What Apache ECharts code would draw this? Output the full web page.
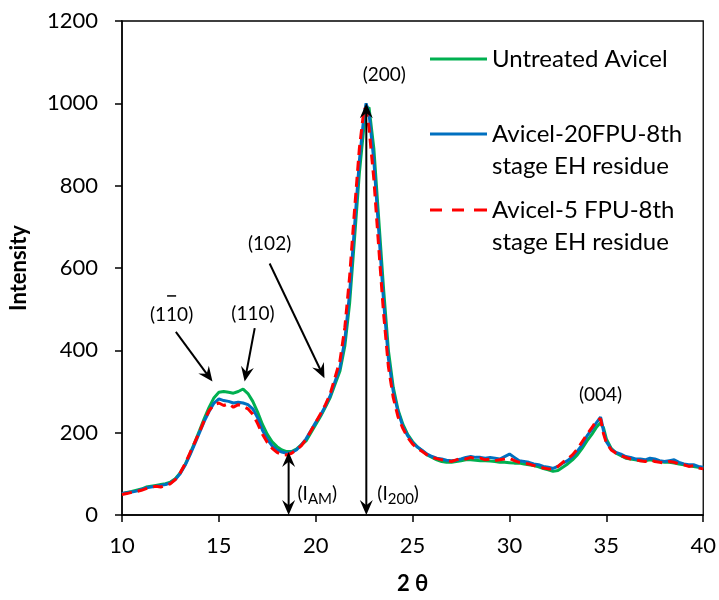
<!DOCTYPE html>
<html>
<head>
<meta charset="utf-8">
<script src="https://cdn.jsdelivr.net/npm/echarts@6/dist/echarts.min.js"></script>
<style>
  html, body { margin: 0; padding: 0; background: #fff; }
  #main { width: 719px; height: 600px; }
</style>
</head>
<body>
<div id="main"></div>
<script>
// Diffraction angle 2θ (degrees)
const theta = [
  10, 10.25, 10.5, 10.75, 11, 11.25, 11.5, 11.75, 12, 12.25, 12.5, 12.75, 13, 13.25, 13.5, 13.75, 14, 14.25, 14.5, 14.75,
  15, 15.25, 15.5, 15.75, 16, 16.25, 16.5, 16.75, 17, 17.25, 17.5, 17.75, 18, 18.25, 18.5, 18.75, 19, 19.25, 19.5, 19.75,
  20, 20.25, 20.5, 20.75, 21, 21.25, 21.5, 21.75, 22, 22.25, 22.5, 22.6, 22.75, 23, 23.25, 23.5, 23.75, 24, 24.25, 24.5, 24.75,
  25, 25.25, 25.5, 25.75, 26, 26.25, 26.5, 26.75, 27, 27.25, 27.5, 27.75, 28, 28.25, 28.5, 28.75, 29, 29.25, 29.5, 29.75,
  30, 30.25, 30.5, 30.75, 31, 31.25, 31.5, 31.75, 32, 32.25, 32.5, 32.75, 33, 33.25, 33.5, 33.75, 34, 34.25, 34.5, 34.7, 34.75, 34.85,
  35, 35.25, 35.5, 35.75, 36, 36.25, 36.5, 36.75, 37, 37.25, 37.5, 37.75, 38, 38.25, 38.5, 38.75, 39, 39.25, 39.5, 39.75, 40
];

// Untreated Avicel
const untreated = [
  52, 55, 57, 60, 63, 68, 70, 72, 74, 76, 80, 88, 102, 122, 148, 176, 205, 235, 262, 285,
  298, 300, 298, 296, 300, 306, 295, 276, 250, 220, 196, 178, 166, 158, 154, 154, 160, 170, 180, 200,
  220, 240, 262, 286, 318, 350, 410, 515, 670, 830, 950, 985, 990, 890, 720, 550, 400, 310, 255, 220, 195,
  178, 165, 156, 146, 140, 134, 130, 128, 128, 130, 132, 134, 134, 133, 132, 132, 131, 130, 128, 128,
  127, 126, 126, 124, 122, 120, 117, 113, 110, 106, 108, 116, 124, 134, 146, 162, 180, 196, 214, 224, 228, 212,
  185, 162, 150, 144, 138, 136, 134, 132, 132, 134, 132, 130, 128, 128, 126, 124, 122, 120, 118, 116, 114
];

// Avicel-20FPU-8th stage EH residue
const fpu20 = [
  52, 54, 56, 58, 62, 66, 68, 70, 72, 74, 78, 86, 100, 120, 145, 172, 200, 228, 252, 272,
  282, 278, 276, 272, 274, 272, 268, 258, 236, 206, 184, 168, 158, 153, 150, 152, 158, 170, 185, 205,
  225, 243, 265, 290, 325, 358, 425, 540, 700, 860, 975, 1000, 975, 860, 690, 520, 380, 300, 250, 215, 192,
  176, 165, 157, 148, 142, 138, 136, 133, 132, 133, 136, 140, 142, 140, 140, 138, 140, 138, 136, 142,
  148, 140, 132, 130, 128, 124, 122, 118, 116, 113, 118, 126, 132, 142, 155, 170, 192, 208, 225, 238, 228, 205,
  178, 160, 152, 148, 142, 140, 136, 136, 134, 138, 136, 132, 130, 132, 134, 128, 124, 122, 122, 118, 116
];

// Avicel-5 FPU-8th stage EH residue
const fpu5 = [
  50, 52, 55, 57, 60, 64, 67, 70, 68, 72, 76, 86, 102, 124, 150, 176, 202, 230, 254, 268,
  272, 266, 270, 262, 268, 264, 258, 245, 222, 196, 176, 162, 152, 147, 146, 150, 158, 168, 184, 204,
  225, 246, 268, 295, 335, 375, 455, 580, 740, 890, 990, 985, 940, 815, 650, 490, 360, 285, 238, 210, 188,
  172, 162, 154, 146, 140, 137, 134, 132, 130, 134, 138, 136, 140, 136, 138, 134, 136, 132, 134, 136,
  138, 132, 128, 126, 124, 120, 118, 114, 112, 112, 118, 128, 136, 146, 160, 178, 196, 212, 230, 234, 222, 198,
  175, 158, 150, 144, 140, 136, 134, 132, 130, 134, 130, 128, 126, 130, 128, 124, 122, 118, 120, 114, 112
];

const seriesNames = [
  'Untreated Avicel',
  'Avicel-20FPU-8th stage EH residue',
  'Avicel-5 FPU-8th stage EH residue'
];
const legendLines = {
  'Untreated Avicel': 'Untreated Avicel',
  'Avicel-20FPU-8th stage EH residue': ' \nAvicel-20FPU-8th\nstage EH residue',
  'Avicel-5 FPU-8th stage EH residue': ' \nAvicel-5 FPU-8th\nstage EH residue'
};

// Peak labels: [text, 2θ, intensity]
const peakLabels = [
  ['(110)', 12.56, 486],
  ['(110)', 16.76, 488],
  ['(102)', 17.62, 658],
  ['(200)', 23.54, 1069],
  ['(004)', 34.7, 293]
];
// Pointer arrows: [from 2θ, from I, to 2θ, to I, head at start, head at end]
const arrows = [
  [12.78, 445, 14.67, 324, false, true],
  [16.85, 454, 16.33, 324, false, true],
  [17.62, 611, 20.45, 332, false, true],
  [18.6, 0, 18.6, 153, true, true],
  [22.61, 0, 22.61, 1000, true, true]
];

const FONT = 'Lato, "Open Sans", sans-serif';
const pair = arr => theta.map((t, i) => [t, arr[i]]);

const chart = echarts.init(document.getElementById('main'), null, { renderer: 'canvas' });

// legend keys drawn as plain strokes (solid or dashed)
const solidKey = 'path://M0,0h57v3h-57z';
const dashedKey = 'path://M0,0h12v3h-12z M22,0h12v3h-12z M44,0h13v3h-13z';

function legendFor(name, top, icon) {
  return {
    data: [{ name: name, icon: icon }],
    left: 430,
    top: top,
    orient: 'vertical',
    itemWidth: 57,
    itemHeight: 3,
    padding: 0,
    selectedMode: false,
    formatter: n => legendLines[n],
    textStyle: { fontFamily: FONT, fontSize: 24, color: '#000', lineHeight: 32 }
  };
}

const colors = ['#00B050', '#0070C0', '#FF0000'];

chart.setOption({
  animation: false,
  backgroundColor: '#fff',
  grid: {
    left: 122, right: 14, top: 21, bottom: 85,
    show: true, borderColor: '#000', borderWidth: 1.3
  },
  legend: [
    legendFor(seriesNames[0], 43, solidKey),
    legendFor(seriesNames[1], 86, solidKey),
    legendFor(seriesNames[2], 162, dashedKey)
  ],
  xAxis: {
    type: 'value', min: 10, max: 40, interval: 5,
    name: '2 θ', nameLocation: 'middle', nameGap: 58,
    nameTextStyle: { fontFamily: FONT, fontSize: 22, fontWeight: 'bold', color: '#000' },
    axisLine: { lineStyle: { color: '#000', width: 1.5 } },
    axisTick: { inside: false, length: 7, lineStyle: { color: '#000', width: 1.5 } },
    axisLabel: { fontFamily: FONT, fontSize: 22, color: '#000', margin: 20 },
    splitLine: { show: false }
  },
  yAxis: {
    type: 'value', min: 0, max: 1200, interval: 200,
    name: 'Intensity', nameLocation: 'middle', nameGap: 92, nameRotate: 90,
    nameTextStyle: { fontFamily: FONT, fontSize: 22, fontWeight: 'bold', color: '#000' },
    axisLine: { show: true, lineStyle: { color: '#000', width: 1.5 } },
    axisTick: { show: true, inside: false, length: 7, lineStyle: { color: '#000', width: 1.5 } },
    axisLabel: { fontFamily: FONT, fontSize: 22, color: '#000', margin: 24, formatter: v => String(v) },
    splitLine: { show: false }
  },
  series: [
    {
      name: seriesNames[0], type: 'line', data: pair(untreated), symbol: 'none',
      lineStyle: { color: colors[0], width: 3 }, itemStyle: { color: colors[0] }, z: 2
    },
    {
      name: seriesNames[1], type: 'line', data: pair(fpu20), symbol: 'none',
      lineStyle: { color: colors[1], width: 3 }, itemStyle: { color: colors[1] }, z: 3
    },
    {
      name: seriesNames[2], type: 'line', data: pair(fpu5), symbol: 'none',
      lineStyle: { color: colors[2], width: 3, type: [10, 6] }, itemStyle: { color: colors[2] }, z: 4
    }
  ]
});

// ----- annotations: peak labels, pointer arrows, intensity markers -----
const toPx = (x, y) => chart.convertToPixel({ gridIndex: 0 }, [x, y]);
const graphics = [];

function arrowHead(tip, dx, dy) {
  const L = 15, W = 13;
  const nx = -dy, ny = dx;
  const bx = tip[0] - dx * L, by = tip[1] - dy * L;
  return {
    type: 'polygon', z: 100,
    shape: { points: [
      tip,
      [bx + nx * W / 2, by + ny * W / 2],
      [tip[0] - dx * L * 0.65, tip[1] - dy * L * 0.65],
      [bx - nx * W / 2, by - ny * W / 2]
    ] },
    style: { fill: '#000' }
  };
}

arrows.forEach(([x1, y1, x2, y2, hs, he]) => {
  const a = toPx(x1, y1), b = toPx(x2, y2);
  const len = Math.hypot(b[0] - a[0], b[1] - a[1]);
  const dx = (b[0] - a[0]) / len, dy = (b[1] - a[1]) / len;
  const s = hs ? [a[0] + dx * 9, a[1] + dy * 9] : a;
  const e = he ? [b[0] - dx * 9, b[1] - dy * 9] : b;
  graphics.push({
    type: 'line', z: 100,
    shape: { x1: s[0], y1: s[1], x2: e[0], y2: e[1] },
    style: { stroke: '#000', lineWidth: 2 }
  });
  if (he) graphics.push(arrowHead(b, dx, dy));
  if (hs) graphics.push(arrowHead(a, -dx, -dy));
});

const labelFont = 19;
peakLabels.forEach(([txt, x, y]) => {
  const p = toPx(x, y);
  graphics.push({
    type: 'text', z: 100, x: p[0], y: p[1],
    style: { text: txt, fontFamily: FONT, fontSize: labelFont, fill: '#000', align: 'center', verticalAlign: 'middle' }
  });
});

// bar over the second "1" of the first label, i.e. (1̄10) notation
(function () {
  const ctx = document.createElement('canvas').getContext('2d');
  ctx.font = labelFont + 'px ' + FONT;
  const full = ctx.measureText('(110)').width;
  const pre = ctx.measureText('(1').width;
  const one = ctx.measureText('1').width;
  const p = toPx(peakLabels[0][1], peakLabels[0][2]);
  const left = p[0] - full / 2 + pre;
  graphics.push({
    type: 'line', z: 100,
    shape: { x1: left + 1, y1: p[1] - 19, x2: left + one - 1, y2: p[1] - 19 },
    style: { stroke: '#000', lineWidth: 1.5 }
  });
})();

// intensity markers with subscripts
[['AM', 19.06], ['200', 23.18]].forEach(([sub, x]) => {
  const p = toPx(x, 61);
  graphics.push({
    type: 'text', z: 100, x: p[0], y: p[1],
    style: {
      text: '{a|(I}{s|' + sub + '}{a|)}',
      align: 'left', verticalAlign: 'middle',
      rich: {
        a: { fontFamily: FONT, fontSize: 19, fill: '#000', lineHeight: 26, verticalAlign: 'bottom' },
        s: { fontFamily: FONT, fontSize: 15, fill: '#000', lineHeight: 26, verticalAlign: 'bottom', padding: [0, 0, -4, 0] }
      }
    }
  });
});

chart.setOption({ graphic: graphics });
</script>
</body>
</html>
